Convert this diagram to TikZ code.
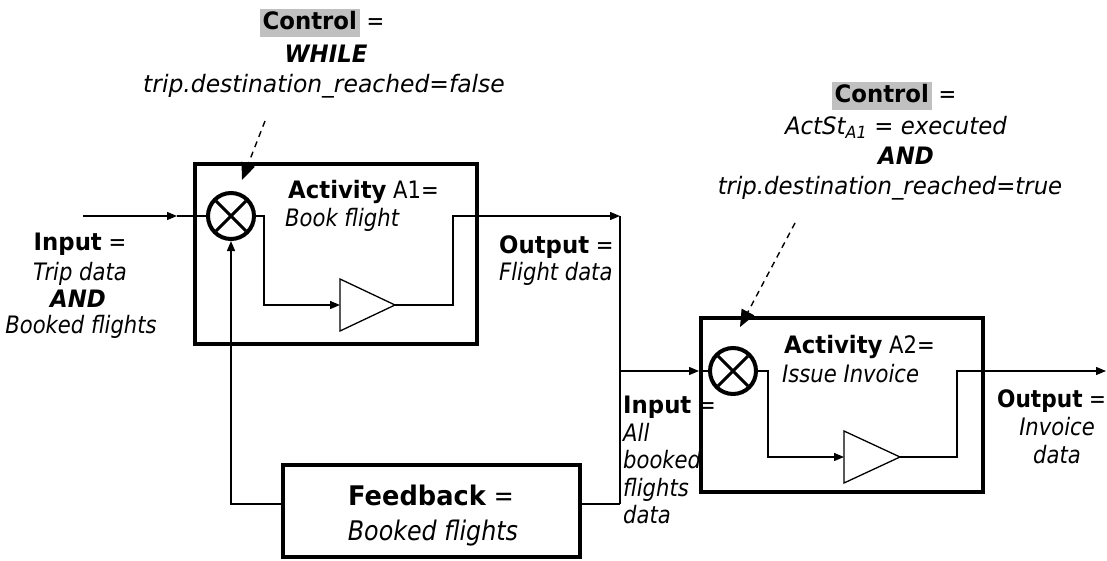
\documentclass[tikz,border=0pt]{standalone}
\usepackage{graphicx}
\usepackage{fontspec}
\setmainfont{DejaVu Sans}[
  UprightFeatures={FakeStretch=0.88},
  ItalicFeatures={FakeStretch=0.88},
  BoldFeatures={FakeStretch=0.95},
  BoldItalicFeatures={FakeStretch=0.95}]
\usetikzlibrary{arrows.meta}
\definecolor{hl}{RGB}{192,192,192}
\setlength{\fboxsep}{3pt}
\begin{document}
\begin{tikzpicture}[x=1pt,y=-1pt,
  lbl/.style={anchor=base, inner sep=0pt, font=\fontsize{24}{29}\selectfont},
  lblL/.style={lbl, anchor=base west},
  big/.style={lbl, font=\fontsize{27}{32}\selectfont},
  thin/.style={line width=1.3pt},
  arr/.style={thin, -{Triangle[length=10pt,width=8pt]}},
  ctl/.style={line width=1.4pt, dash pattern=on 6pt off 5pt, -{Triangle[length=17pt,width=14pt]}},
  actbox/.style={draw, line width=4pt, inner sep=0pt},
  gate/.style={draw, circle, line width=4pt, minimum size=46pt, inner sep=0pt},
  cross/.style={line width=3pt}
]
\useasboundingbox (0,0) rectangle (1107,561);

% activity boxes and feedback box
\node[actbox, minimum width=282pt, minimum height=180pt] (A1) at (336,254) {};
\node[actbox, minimum width=282pt, minimum height=174pt] (A2) at (842,405) {};
\node[actbox, minimum width=297pt, minimum height=92pt] (FB) at (431.5,511) {};

% gates
\node[gate] (G1) at (231,216) {};
\draw[cross] ([shift={(45:21pt)}]G1.center) -- ([shift={(225:21pt)}]G1.center)
             ([shift={(135:21pt)}]G1.center) -- ([shift={(315:21pt)}]G1.center);
\node[gate] (G2) at (733,371) {};
\draw[cross] ([shift={(45:21pt)}]G2.center) -- ([shift={(225:21pt)}]G2.center)
             ([shift={(135:21pt)}]G2.center) -- ([shift={(315:21pt)}]G2.center);

% triangles
\coordinate (t1w) at (340,305); \coordinate (t1e) at (395,305);
\coordinate (t1a) at (340,279); \coordinate (t1b) at (340,331);
\draw[thin, line join=miter] (t1a) -- (t1e) -- (t1b) -- cycle;
\coordinate (t2w) at (844,457); \coordinate (t2e) at (900,457);
\coordinate (t2a) at (844,431); \coordinate (t2b) at (844,483);
\draw[thin, line join=miter] (t2a) -- (t2e) -- (t2b) -- cycle;

% input to A1
\coordinate (inS) at (83,216);
\coordinate (inT) at (177,216);
\draw[arr] (inS) -- (inT);
\draw[thin] (inT) -- (G1.west);

% inside A1
\coordinate (k1) at (264,216); \coordinate (k2) at (264,305);
\draw[arr] (G1.east) -- (k1) -- (k2) -- (t1w);
\coordinate (k3) at (453,305); \coordinate (k4) at (453,216);
\coordinate (o1) at (620,216);
\draw[arr] (t1e) -- (k3) -- (k4) -- (o1);

% junction line and feedback
\coordinate (j1) at (620,371); \coordinate (j2) at (620,504);
\draw[thin] (o1) -- (j2);
\draw[thin] (FB.east |- j2) -- (j2);
\draw[arr] (FB.west |- j2) -| (G1.south);

% input to A2
\coordinate (inT2) at (699,371);
\draw[arr] (j1) -- (inT2);
\draw[thin] (inT2) -- (G2.west);

% inside A2
\coordinate (k5) at (768,371); \coordinate (k6) at (768,457);
\draw[arr] (G2.east) -- (k5) -- (k6) -- (t2w);
\coordinate (k7) at (957,457); \coordinate (k8) at (957,371);
\coordinate (o2) at (1106,371);
\draw[arr] (t2e) -- (k7) -- (k8) -- (o2);

% control arrows
\coordinate (d1s) at (265,121); \coordinate (d1e) at (242,180);
\draw[ctl] (d1s) -- (d1e);
\coordinate (d2s) at (795,223); \coordinate (d2e) at (740,327);
\draw[ctl] (d2s) -- (d2e);

% texts: control A1
\node[lbl] (c1a) at (322,30) {\colorbox{hl}{\rule[-4pt]{0pt}{21pt}\textbf{Control}} =};
\node[lbl] (c1b) at (326,63) {\textbf{\textit{WHILE}}};
\node[lbl] (c1c) at (324,93) {\scalebox{1.11}[1]{\textit{trip.destination\_reached=false}}};

% activity A1
\node[lblL] (a1a) at (288,199) {\textbf{Activity} A1=};
\node[lblL] (a1b) at (285,227) {\textit{Book flight}};

% input A1
\node[lbl] (i1a) at (80,251) {\textbf{Input} =};
\node[lbl] (i1b) at (80,280) {\textit{Trip data}};
\node[lbl] (i1c) at (78,307) {\textbf{\textit{AND}}};
\node[lbl] (i1d) at (81,333) {\textit{Booked flights}};

% output A1
\node[lblL] (o1a) at (499,253) {\textbf{Output} =};
\node[lblL] (o1b) at (499,280) {\textit{Flight data}};

% control A2
\node[lbl] (c2a) at (894,103) {\colorbox{hl}{\rule[-4pt]{0pt}{21pt}\textbf{Control}} =};
\node[lbl] (c2b) at (896,135) {\scalebox{1.08}[1]{\textit{ActSt\textsubscript{A1} = executed}}};
\node[lbl] (c2c) at (906,165) {\textbf{\textit{AND}}};
\node[lbl] (c2d) at (890,195) {\scalebox{1.08}[1]{\textit{trip.destination\_reached=true}}};

% activity A2
\node[lblL] (a2a) at (784,353) {\textbf{Activity} A2=};
\node[lblL] (a2b) at (782,382) {\textit{Issue Invoice}};

% input A2
\node[lblL] (i2a) at (623,413) {\textbf{Input} =};
\node[lblL] (i2b) at (623,441) {\textit{All}};
\node[lblL] (i2c) at (623,468) {\textit{booked}};
\node[lblL] (i2d) at (623,496) {\textit{flights}};
\node[lblL] (i2e) at (623,523) {\textit{data}};

% output A2
\node[lbl, anchor=base east] (o2a) at (1106,407) {\scalebox{0.95}[1]{\textbf{Output} =}};
\node[lbl] (o2b) at (1057,435) {\textit{Invoice}};
\node[lbl] (o2c) at (1057,463) {\textit{data}};

% feedback
\node[big] (f1) at (431,505) {\textbf{Feedback} =};
\node[big] (f2) at (433,540) {\textit{Booked flights}};
\end{tikzpicture}
\end{document}
